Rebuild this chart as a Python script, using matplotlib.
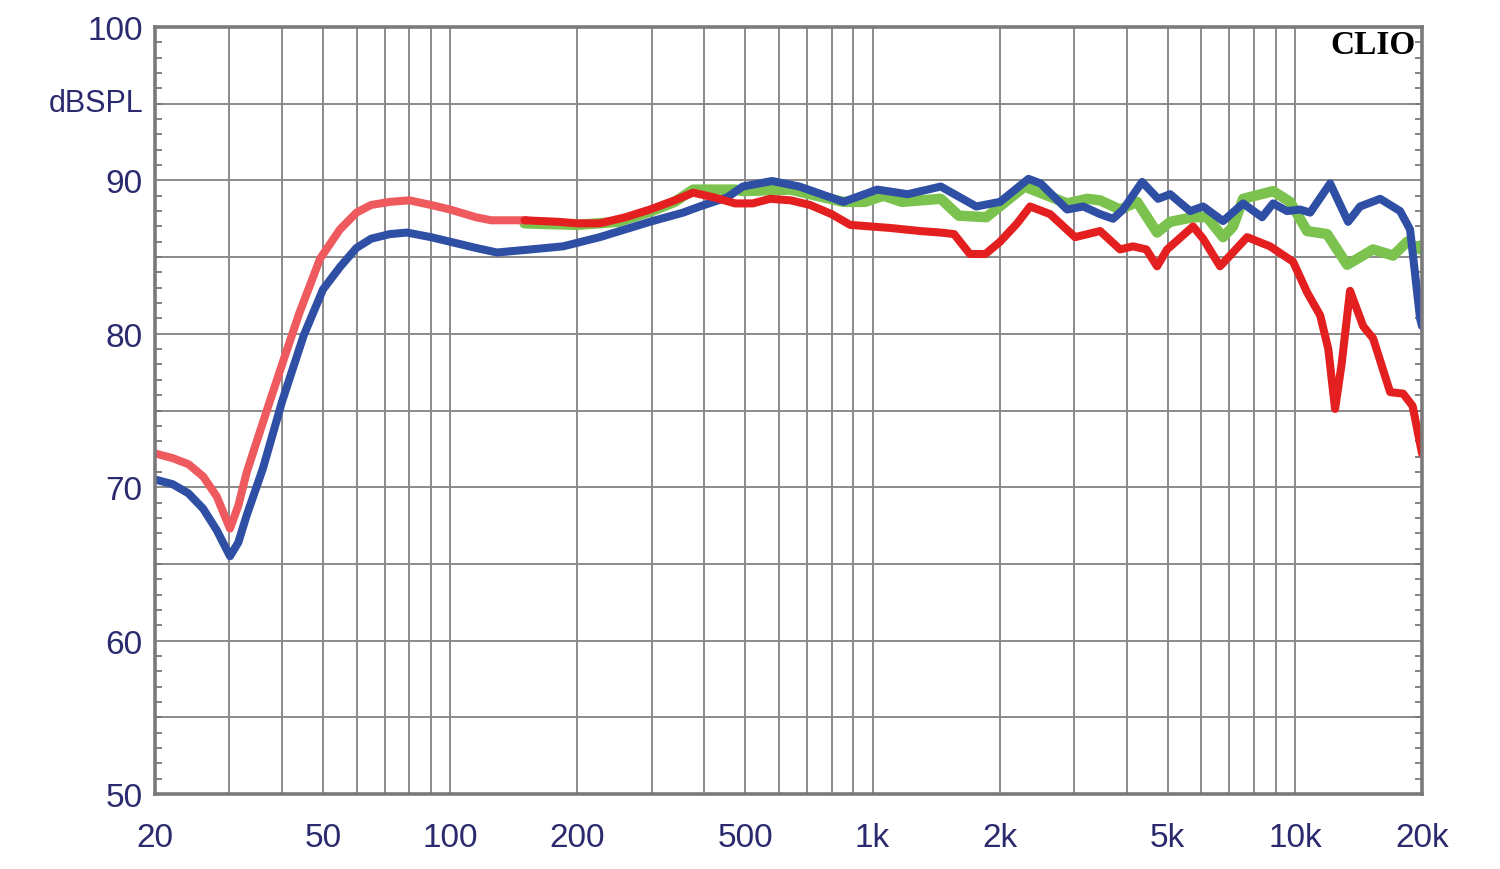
import matplotlib
matplotlib.use("Agg")
import matplotlib.pyplot as plt
from matplotlib.ticker import FixedLocator, NullLocator

# ---------------- data ----------------
pink_f = [20, 22, 24, 26, 28, 30.1, 31.5, 33, 37.4, 41, 44, 49.2, 54.8, 60, 65, 72, 80, 90,
          100, 115, 125, 140, 152]
pink_db = [72.2, 71.9, 71.5, 70.7, 69.4, 67.3, 68.8, 71.0, 75.6, 78.9, 81.4, 84.9, 86.8, 87.9,
           88.4, 88.6, 88.7, 88.4, 88.1, 87.6, 87.4, 87.4, 87.4]

red_f = [150, 180, 200, 226, 260, 297, 340, 376, 420, 473, 520, 572, 640, 711, 800, 885, 987,
         1100, 1296, 1450, 1560, 1700, 1850, 2004, 2200, 2361, 2633, 3017, 3458, 3856, 4139,
         4450, 4718, 4983, 5741, 6063, 6651, 7709, 8737, 9903, 10690, 11480, 12000, 12450,
         12900, 13510, 14510, 15320, 16810, 18040, 19000, 20000]
red_db = [87.4, 87.3, 87.2, 87.2, 87.6, 88.1, 88.7, 89.2, 88.9, 88.5, 88.5, 88.8, 88.7, 88.4,
          87.8, 87.1, 87.0, 86.9, 86.7, 86.6, 86.5, 85.2, 85.2, 86.0, 87.2, 88.3, 87.8, 86.3,
          86.7, 85.5, 85.7, 85.5, 84.4, 85.5, 87.0, 86.2, 84.4, 86.3, 85.7, 84.7, 82.7, 81.2,
          79.0, 75.1, 78.0, 82.8, 80.5, 79.7, 76.2, 76.1, 75.3, 72.2]

blue_f = [20, 22, 24, 26, 28, 30.1, 31.5, 33, 36, 40, 45, 50, 55, 60, 65, 72, 79, 90, 100,
          115, 129, 155, 185, 226, 297, 356, 390, 453, 493, 578, 671, 853, 1026, 1211, 1451,
          1760, 2004, 2340, 2500, 2889, 3155, 3458, 3713, 3920, 4348, 4744, 5065, 5648, 6063,
          6761, 7543, 8364, 8881, 9584, 10290, 10870, 12120, 13370, 14270, 15920, 17750, 18740,
          19790, 20000]
blue_db = [70.5, 70.2, 69.6, 68.6, 67.2, 65.5, 66.4, 68.2, 71.2, 75.6, 79.9, 82.9, 84.4, 85.6,
           86.2, 86.5, 86.6, 86.3, 86.0, 85.6, 85.3, 85.5, 85.7, 86.3, 87.3, 87.9, 88.3, 88.9,
           89.6, 89.96, 89.6, 88.6, 89.4, 89.1, 89.6, 88.3, 88.6, 90.1, 89.8, 88.1, 88.3, 87.8,
           87.5, 88.1, 89.9, 88.8, 89.1, 88.0, 88.3, 87.35, 88.5, 87.6, 88.5, 88.0, 88.1, 87.9,
           89.8, 87.3, 88.3, 88.8, 88.0, 86.8, 81.0, 80.5]

green_f = [150, 200, 250, 300, 340, 376, 473, 493, 640, 711, 853, 960, 1061, 1174, 1451, 1600,
           1860, 2290, 2889, 3225, 3458, 3856, 4231, 4718, 5065, 5741, 6200, 6761, 7141, 7543,
           8881, 9742, 10690, 11920, 13300, 15320, 17090, 18440, 19790, 20000]
green_db = [87.2, 87.1, 87.3, 88.0, 88.6, 89.4, 89.4, 89.3, 89.4, 89.1, 88.6, 88.6, 89.0, 88.6,
            88.8, 87.7, 87.6, 89.6, 88.5, 88.8, 88.7, 88.1, 88.6, 86.6, 87.3, 87.6, 87.6, 86.3,
            87.0, 88.8, 89.3, 88.6, 86.7, 86.5, 84.5, 85.5, 85.1, 86.0, 85.5, 85.8]

x_ticks = [20, 50, 100, 200, 500, 1000, 2000, 5000, 10000, 20000]
x_tick_labels = ["20", "50", "100", "200", "500", "1k", "2k", "5k", "10k", "20k"]
y_ticks = [50, 60, 70, 80, 90, 100]
y_tick_labels = ["50", "60", "70", "80", "90", "100"]

# ---------------- figure ----------------
plt.rcParams['font.family'] = ['Liberation Sans', 'DejaVu Sans']
fig = plt.figure(figsize=(15, 8.7), dpi=100)
ax = fig.add_axes([155 / 1500, 1 - 795 / 870, (1422 - 155) / 1500, (795 - 28) / 870])

ax.set_xscale('log')
ax.set_xlim(20, 20000)
ax.set_ylim(50, 100)

grid_c = '#8a8a8a'
vgrid = [30, 40, 50, 60, 70, 80, 90, 100, 200, 300, 400, 500, 600, 700, 800, 900, 1000,
         2000, 3000, 4000, 5000, 6000, 7000, 8000, 9000, 10000]
for v in vgrid:
    ax.axvline(v, color=grid_c, lw=1.4, zorder=1)
for h in range(55, 100, 5):
    ax.axhline(h, color=grid_c, lw=1.4, zorder=1)

kw = dict(solid_joinstyle='round', solid_capstyle='round')
ax.plot(green_f, green_db, color='#7cc24e', lw=7.5, zorder=3, **kw)
ax.plot(blue_f, blue_db, color='#2f4fa5', lw=5.8, zorder=4, **kw)
ax.plot(pink_f, pink_db, color='#ee5a5e', lw=5.8, zorder=5, **kw)
ax.plot(red_f, red_db, color='#e3201f', lw=5.8, zorder=5, **kw)

label_c = '#2c2a6e'
ax.xaxis.set_major_locator(FixedLocator(x_ticks))
ax.xaxis.set_minor_locator(NullLocator())
ax.set_xticklabels(x_tick_labels)
ax.yaxis.set_major_locator(FixedLocator(y_ticks))
ax.yaxis.set_minor_locator(FixedLocator([v for v in range(51, 100) if v % 10 != 0]))
ax.set_yticklabels(y_tick_labels)

ax.tick_params(axis='x', which='major', length=0, pad=20, labelsize=24, labelcolor=label_c)
ax.tick_params(axis='y', which='major', length=0, pad=9, labelsize=24, labelcolor=label_c)
ax.tick_params(axis='y', which='minor', direction='in', length=5, width=1.3, color='#777777',
               left=True, right=True)

for s in ax.spines.values():
    s.set_color('#7a7a7a')
    s.set_linewidth(2.6)
    s.set_zorder(6)

fig.text(143 / 1500, 1 - 104 / 870, 'dBSPL', ha='right', va='center', fontsize=22, color=label_c)
fig.text(1416 / 1500, 1 - 46 / 870, 'CLIO', ha='right', va='center', fontsize=24,
         fontweight='bold', family='Liberation Serif', color='black', zorder=7)

fig.savefig('out.png', dpi=100, facecolor='white')
